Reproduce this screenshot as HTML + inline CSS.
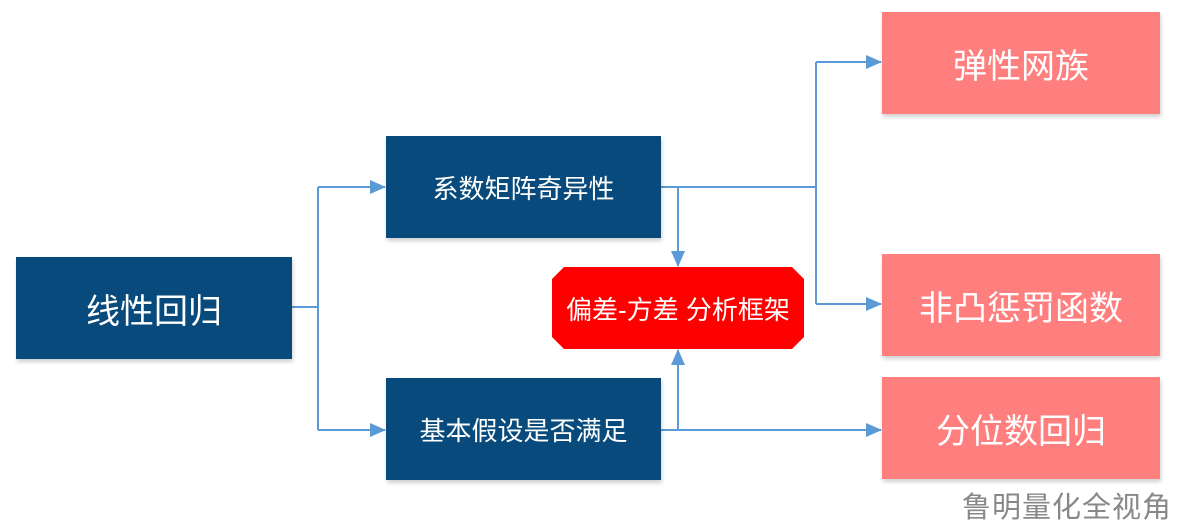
<!DOCTYPE html>
<html><head><meta charset="utf-8"><style>
body{margin:0;width:1197px;height:528px;background:#fff;position:relative;overflow:hidden;font-family:"Liberation Sans","Noto Sans CJK SC",sans-serif}
.b{position:absolute;display:flex;align-items:center;justify-content:center;color:#fff;box-shadow:1px 3px 4px rgba(0,0,0,0.18)}
.d{background:#074a7b}
.p{background:#ff7f7f;font-size:34px}
</style></head><body>
<svg width="1197" height="528" style="position:absolute;left:0;top:0">
<defs><marker id="a2" markerWidth="16" markerHeight="14" refX="15" refY="7" orient="auto" markerUnits="userSpaceOnUse"><path d="M0,0 L16,7 L0,14 z" fill="#5b9bd5"/></marker></defs>
<g stroke="#5b9bd5" stroke-width="2" fill="none">
<path d="M292,307 H318"/>
<path d="M318,187 V430"/>
<path d="M318,187 H385" marker-end="url(#a2)"/>
<path d="M318,430 H385" marker-end="url(#a2)"/>
<path d="M661,187 H816"/>
<path d="M816,62 V304"/>
<path d="M816,62 H881" marker-end="url(#a2)"/>
<path d="M816,304 H881" marker-end="url(#a2)"/>
<path d="M678,187 V266" marker-end="url(#a2)"/>
<path d="M661,430 H881" marker-end="url(#a2)"/>
<path d="M678,430 V350" marker-end="url(#a2)"/>
</g></svg>
<div class="b d" style="left:16px;top:257px;width:276px;height:102px;font-size:34px">线性回归</div>
<div class="b d" style="left:386px;top:136px;width:275px;height:102px;font-size:26px">系数矩阵奇异性</div>
<div class="b d" style="left:386px;top:378px;width:275px;height:102px;font-size:26px">基本假设是否满足</div>
<div class="b" style="left:552px;top:267px;width:252px;height:82px;background:#ff0000;font-size:26px;clip-path:polygon(12px 0,240px 0,252px 12px,252px 70px,240px 82px,12px 82px,0 70px,0 12px)">偏差-方差 分析框架</div>
<div class="b p" style="left:882px;top:12px;width:278px;height:102px">弹性网族</div>
<div class="b p" style="left:882px;top:254px;width:278px;height:102px">非凸惩罚函数</div>
<div class="b p" style="left:882px;top:377px;width:278px;height:102px">分位数回归</div>
<div style="position:absolute;left:962px;top:484px;font-size:29px;color:#888;letter-spacing:1px">鲁明量化全视角</div>
</body></html>
